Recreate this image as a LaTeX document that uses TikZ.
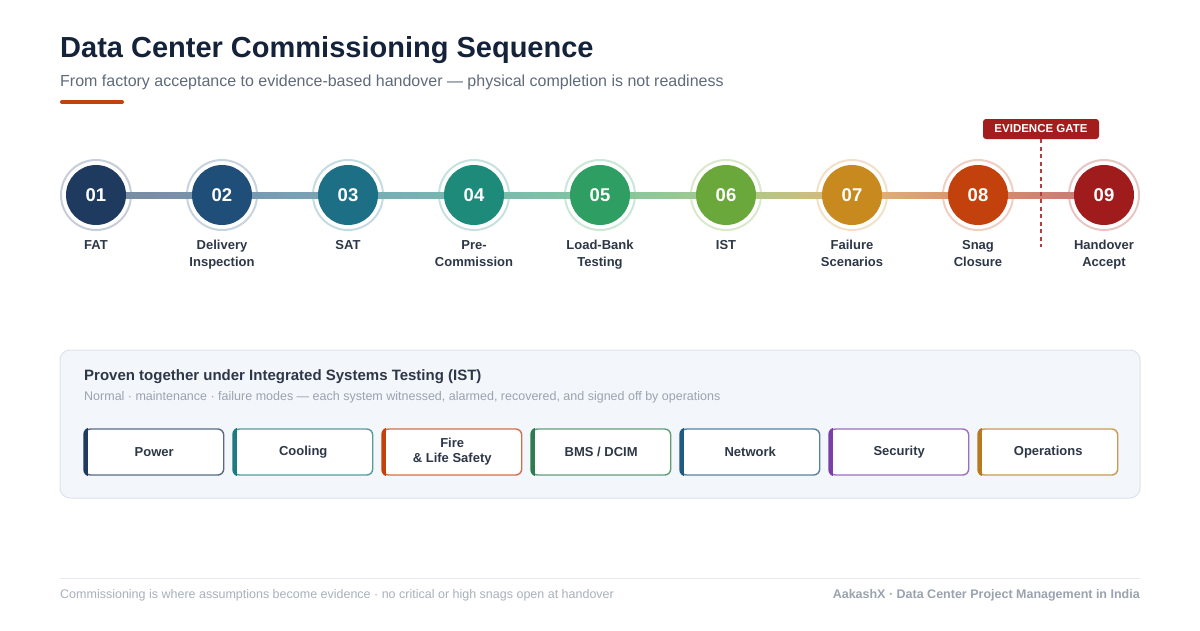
\documentclass[tikz,border=0pt]{standalone}
\usepackage{fontspec}
\setmainfont{Liberation Sans}
\usepackage{xcolor}
\usepackage{tikz}
\usetikzlibrary{positioning,calc}
\definecolor{ink}{HTML}{14233A}
\definecolor{slate}{HTML}{2D3748}
\definecolor{muted}{HTML}{5F6B7A}
\definecolor{faint}{HTML}{9AA3AF}
\definecolor{panel}{HTML}{F3F6FA}
\definecolor{panelrule}{HTML}{DDE3EA}
\definecolor{footrule}{HTML}{E6E9ED}
\definecolor{gate}{HTML}{A31D1D}
\definecolor{s1}{HTML}{1F3A5F}
\definecolor{s2}{HTML}{1F4E79}
\definecolor{s3}{HTML}{1D6F86}
\definecolor{s4}{HTML}{1E8A7A}
\definecolor{s5}{HTML}{2E9E62}
\definecolor{s6}{HTML}{6AA83C}
\definecolor{s7}{HTML}{C8891E}
\definecolor{s8}{HTML}{C2410C}
\definecolor{s9}{HTML}{A01C1C}
\definecolor{sysA}{HTML}{1F3A5F}
\definecolor{sysB}{HTML}{1D7A80}
\definecolor{sysC}{HTML}{C2410C}
\definecolor{sysD}{HTML}{2E7D4F}
\definecolor{sysE}{HTML}{1F5A80}
\definecolor{sysF}{HTML}{7B3FA8}
\definecolor{sysG}{HTML}{B7791F}
\newcommand{\px}[2]{\fontsize{#1pt}{#2pt}\selectfont}

\begin{document}
\begin{tikzpicture}[x=1pt,y=-1pt,
  ring/.style={circle,minimum size=70pt,inner sep=0pt,line width=2pt,fill=white},
  stage/.style={circle,minimum size=60pt,inner sep=0pt,text=white,font=\px{18.5}{20}\bfseries},
  stagelab/.style={anchor=north,align=center,text=slate,font=\px{13}{17}\bfseries},
  sysbox/.style={draw,fill=white,rounded corners=6pt,line width=1.4pt,minimum width=139pt,
                 minimum height=46pt,inner sep=0pt,anchor=west,align=center,text=slate,
                 font=\px{13}{15}\bfseries},
  gatebox/.style={fill=gate,rounded corners=3pt,minimum width=116pt,minimum height=20pt,
                  inner sep=0pt,text=white,font=\px{11.5}{12}\bfseries},
]
\useasboundingbox[fill=white] (0,0) rectangle (1200,630);

\node[anchor=base west,text=ink,font=\px{29}{32}\bfseries,inner sep=0pt] (title) at (60,57)
  {Data Center Commissioning Sequence};
\node[anchor=base west,text=muted,font=\px{16}{18},inner sep=0pt] (subtitle) at (60,86)
  {From factory acceptance to evidence-based handover — physical completion is not readiness};
\draw[s8,line width=4pt,line cap=round] (62,102) -- (122,102);

% stages
\foreach \i in {1,...,9}
  \node[ring,draw=s\i!25] (ring\i) at ({96+126*(\i-1)},195) {};
\foreach \i in {1,...,8}{
  \pgfmathtruncatemacro\j{\i+1}
  \fill[left color=s\i!60,right color=s\j!60] ($(ring\i.center)+(0,-3)$) rectangle ($(ring\j.center)+(0,3)$);
}
\foreach \i/\lab in {1/FAT,2/{Delivery\\Inspection},3/SAT,4/{Pre-\\Commission},5/{Load-Bank\\Testing},
                    6/IST,7/{Failure\\Scenarios},8/{Snag\\Closure},9/{Handover\\Accept}}{
  \node[stage,fill=s\i] (stage\i) at (ring\i) {0\i};
  \node[stagelab] (lab\i) at ($(stage\i.center)+(0,42)$) {\lab};
}

% evidence gate
\node[gatebox] (gate) at (1041,129) {EVIDENCE GATE};
\coordinate (gateend) at (1041,247);
\draw[gate!85,line width=1.5pt,dash pattern=on 4pt off 3.5pt] (gate.south) -- (gateend);

% IST panel
\draw[panelrule,fill=panel,rounded corners=10pt,line width=1pt] (60,350) rectangle (1140,498);
\node[anchor=base west,text=slate,font=\px{15}{17}\bfseries,inner sep=0pt] (isthead) at (84,380)
  {Proven together under Integrated Systems Testing (IST)};
\node[anchor=base west,text=faint,font=\px{12.5}{14},inner sep=0pt] (istsub) at (84,400)
  {Normal · maintenance · failure modes — each system witnessed, alarmed, recovered, and signed off by operations};
\foreach \k/\col/\txt in {0/sysA/Power,1/sysB/Cooling,2/sysC/{Fire\\\& Life Safety},3/sysD/{BMS / DCIM},
                         4/sysE/Network,5/sysF/Security,6/sysG/Operations}{
  \node[sysbox,draw=\col!75] (sys\k) at ({84+149*\k},452) {\txt};
  \begin{scope}
    \clip[rounded corners=6.7pt] ($(sys\k.north west)+(-0.7,-0.7)$) rectangle ($(sys\k.south east)+(0.7,0.7)$);
    \fill[\col] ($(sys\k.north west)+(-0.7,-0.7)$) rectangle ($(sys\k.south west)+(3.5,0.7)$);
  \end{scope}
}

% footer
\draw[footrule,line width=1pt] (60,578) -- (1140,578);
\node[anchor=base west,text=faint!85,font=\px{12.5}{14},inner sep=0pt] (footl) at (60,598)
  {Commissioning is where assumptions become evidence · no critical or high snags open at handover};
\node[anchor=base east,text=faint,font=\px{12.5}{14}\bfseries,inner sep=0pt] (footr) at (1140,598)
  {AakashX · Data Center Project Management in India};
\end{tikzpicture}
\end{document}
